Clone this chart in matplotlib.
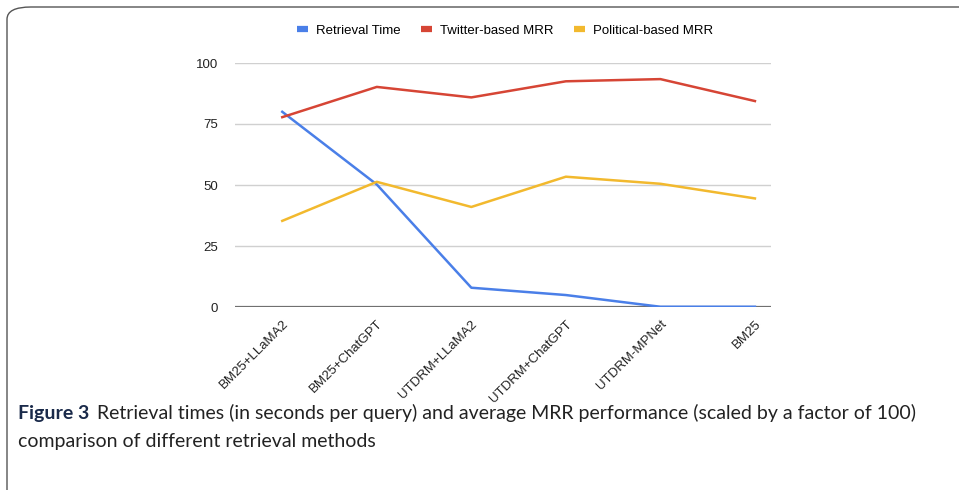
import matplotlib.pyplot as plt
from matplotlib.patches import FancyBboxPatch
from matplotlib.lines import Line2D

# retrieval methods and their scores
methods = ['BM25+LLaMA2', 'BM25+ChatGPT', 'UTDRM+LLaMA2', 'UTDRM+ChatGPT', 'UTDRM-MPNet', 'BM25']
retrieval_time = [80, 50.2, 7.9, 4.9, 0.1, 0.1]
twitter_mrr = [77.8, 90.2, 85.9, 92.5, 93.4, 84.4]
political_mrr = [35.3, 51.3, 41.0, 53.4, 50.5, 44.5]
yticks = [0, 25, 50, 75, 100]

c_blue = '#4a7fe8'
c_red = '#d64535'
c_yellow = '#f2b92e'

plt.rcParams['font.family'] = ['Liberation Sans', 'DejaVu Sans']

fig = plt.figure(figsize=(9.59, 4.90), dpi=100)

# rounded frame around the figure (runs off the right and bottom edges)
frame = FancyBboxPatch((7 / 959, -0.2), 1.2, 1.2 - 7 / 490,
                       boxstyle='round,pad=0,rounding_size=0.025',
                       transform=fig.transFigure, fill=False,
                       edgecolor='#555555', linewidth=1.0, clip_on=False)
fig.patches.append(frame)

ax = fig.add_axes([235 / 959, 1 - 307 / 490, (771 - 235) / 959, (307 - 63) / 490])
x = range(len(methods))
ax.plot(x, retrieval_time, color=c_blue, lw=1.8, label='Retrieval Time', zorder=3)
ax.plot(x, twitter_mrr, color=c_red, lw=1.8, label='Twitter-based MRR', zorder=3)
ax.plot(x, political_mrr, color=c_yellow, lw=1.8, label='Political-based MRR', zorder=3)

ax.set_xlim(-0.5, 5.17)
ax.set_ylim(0, 100)
ax.set_yticks(yticks)
for t in yticks[1:]:
    ax.axhline(t, color='#d0d0d0', lw=1.0, zorder=1)
ax.axhline(0, color='#707070', lw=1.6, zorder=2)
for s in ax.spines.values():
    s.set_visible(False)
ax.tick_params(axis='both', length=0, labelsize=9.5, colors='#222222')
ax.tick_params(axis='y', pad=12)
ax.set_xticks(list(x))
ax.set_xticklabels(methods, rotation=45, ha='right', va='top', rotation_mode='anchor')
ax.tick_params(axis='x', pad=8)

handles = [Line2D([], [], color=c, lw=4.5, solid_capstyle='butt') for c in (c_blue, c_red, c_yellow)]
fig.legend(handles, ['Retrieval Time', 'Twitter-based MRR', 'Political-based MRR'],
           loc='center', bbox_to_anchor=(505 / 959, 1 - 31 / 490), ncol=3, frameon=False,
           fontsize=9.5, handlelength=0.8, handletextpad=0.6, columnspacing=1.6)

cap_font = ['Lato', 'DejaVu Sans']
fig.text(18 / 959, 1 - 413 / 490, 'Figure 3', fontsize=14, fontweight='bold',
         family=cap_font, color='#1a2a4a', va='center')
fig.text(97 / 959, 1 - 413 / 490,
         'Retrieval times (in seconds per query) and average MRR performance (scaled by a factor of 100)',
         fontsize=14, family=cap_font, color='#222222', va='center')
fig.text(18 / 959, 1 - 441 / 490, 'comparison of different retrieval methods',
         fontsize=14, family=cap_font, color='#222222', va='center')

fig.savefig('out.png', dpi=100)
